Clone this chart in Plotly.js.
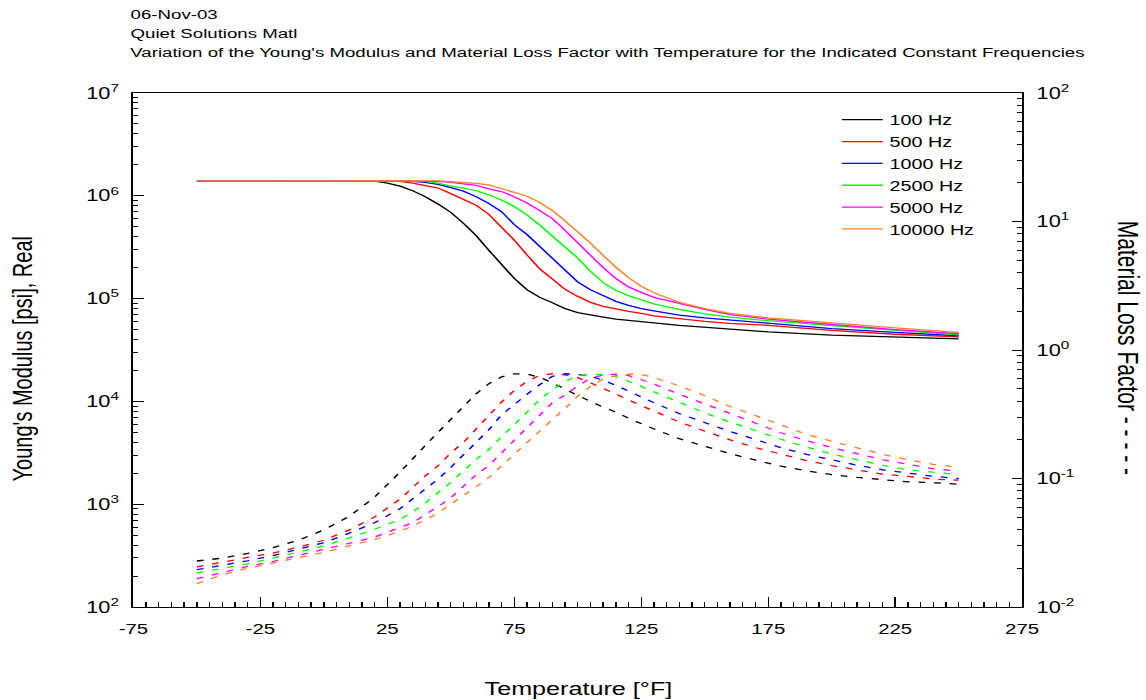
<!DOCTYPE html>
<html>
<head>
<meta charset="utf-8">
<script src="https://cdn.plot.ly/plotly-3.0.1.min.js"></script>
<style>
html,body{margin:0;padding:0;background:#fff;overflow:hidden;}
#wrap{width:1146px;height:700px;overflow:hidden;position:relative;}
#chart{width:842px;height:700px;transform:scaleX(1.361045);transform-origin:0 0;}
</style>
</head>
<body>
<div id="wrap"><div id="chart"></div></div>
<script>
// ---------------- data ----------------
const seriesNames = ['100 Hz', '500 Hz', '1000 Hz', '2500 Hz', '5000 Hz', '10000 Hz'];
const seriesColors = ['#000000', '#ff0000', '#0000ff', '#00ff00', '#ff00ff', '#ff7f27'];

// Young's modulus (psi), solid lines
const tempModulus = [-50, 15, 20, 25, 30, 35, 40, 45, 50, 55, 60, 65, 70, 75, 80, 85, 90, 95, 100, 105, 110, 115, 120, 125, 130, 140, 150, 160, 175, 200, 225, 250];
const modulus100 = [1.40e6, 1.40e6, 1.39e6, 1.33e6, 1.24e6, 1.12e6, 9.8e5, 8.3e5, 6.9e5, 5.4e5, 4.1e5, 2.95e5, 2.14e5, 1.57e5, 1.22e5, 1.03e5, 9.1e4, 8.0e4, 7.3e4, 6.9e4, 6.6e4, 6.3e4, 6.1e4, 5.9e4, 5.8e4, 5.5e4, 5.25e4, 5.05e4, 4.75e4, 4.42e4, 4.2e4, 4.05e4];
const modulus500 = [1.40e6, 1.40e6, 1.40e6, 1.40e6, 1.38e6, 1.33e6, 1.26e6, 1.19e6, 1.05e6, 9.2e5, 8.1e5, 6.6e5, 5.0e5, 3.7e5, 2.66e5, 1.95e5, 1.55e5, 1.23e5, 1.05e5, 9.2e4, 8.4e4, 7.9e4, 7.5e4, 7.2e4, 6.8e4, 6.4e4, 6.0e4, 5.75e4, 5.5e4, 4.9e4, 4.5e4, 4.25e4];
const modulus1000 = [1.40e6, 1.40e6, 1.40e6, 1.40e6, 1.40e6, 1.38e6, 1.35e6, 1.29e6, 1.20e6, 1.11e6, 9.8e5, 8.4e5, 7.0e5, 5.25e5, 4.2e5, 3.2e5, 2.48e5, 1.86e5, 1.45e5, 1.22e5, 1.07e5, 9.4e4, 8.6e4, 8.0e4, 7.6e4, 6.9e4, 6.5e4, 6.2e4, 5.75e4, 5.1e4, 4.7e4, 4.35e4];
const modulus2500 = [1.40e6, 1.40e6, 1.40e6, 1.40e6, 1.40e6, 1.40e6, 1.38e6, 1.33e6, 1.24e6, 1.19e6, 1.12e6, 1.02e6, 9.1e5, 7.85e5, 6.5e5, 5.2e5, 4.1e5, 3.16e5, 2.48e5, 1.84e5, 1.43e5, 1.20e5, 1.07e5, 9.7e4, 8.9e4, 7.85e4, 7.1e4, 6.6e4, 6.1e4, 5.45e4, 4.9e4, 4.45e4];
const modulus5000 = [1.40e6, 1.40e6, 1.40e6, 1.40e6, 1.40e6, 1.40e6, 1.40e6, 1.38e6, 1.35e6, 1.30e6, 1.26e6, 1.17e6, 1.10e6, 9.8e5, 8.5e5, 7.2e5, 6.0e5, 4.6e5, 3.47e5, 2.6e5, 2.0e5, 1.57e5, 1.30e5, 1.15e5, 1.03e5, 9.0e4, 7.85e4, 7.0e4, 6.3e4, 5.6e4, 5.0e4, 4.55e4];
const modulus10000 = [1.40e6, 1.40e6, 1.40e6, 1.40e6, 1.40e6, 1.40e6, 1.40e6, 1.40e6, 1.37e6, 1.35e6, 1.32e6, 1.28e6, 1.18e6, 1.08e6, 9.9e5, 8.6e5, 7.2e5, 5.7e5, 4.47e5, 3.47e5, 2.63e5, 2.02e5, 1.60e5, 1.32e5, 1.14e5, 9.2e4, 8.0e4, 7.2e4, 6.5e4, 5.8e4, 5.2e4, 4.7e4];

// Material loss factor, dashed lines
const tempLoss = [-50, -40, -30, -20, -10, 0, 10, 20, 30, 35, 40, 45, 50, 55, 60, 65, 70, 75, 80, 85, 90, 95, 100, 105, 110, 115, 120, 125, 130, 140, 150, 160, 170, 180, 190, 200, 210, 220, 230, 240, 250];
const loss100 = [0.0228, 0.0240, 0.0261, 0.0290, 0.0331, 0.0398, 0.0507, 0.0716, 0.112, 0.141, 0.181, 0.229, 0.288, 0.363, 0.457, 0.547, 0.619, 0.653, 0.649, 0.614, 0.556, 0.495, 0.442, 0.398, 0.359, 0.329, 0.294, 0.266, 0.243, 0.204, 0.178, 0.156, 0.139, 0.125, 0.115, 0.107, 0.102, 0.0977, 0.0942, 0.0927, 0.0902];
const loss500 = [0.0205, 0.0224, 0.0243, 0.0263, 0.0292, 0.0331, 0.0398, 0.0501, 0.0692, 0.0851, 0.105, 0.126, 0.158, 0.191, 0.243, 0.313, 0.394, 0.484, 0.569, 0.634, 0.653, 0.641, 0.610, 0.556, 0.501, 0.457, 0.406, 0.369, 0.335, 0.275, 0.234, 0.200, 0.174, 0.154, 0.138, 0.126, 0.116, 0.108, 0.104, 0.0989, 0.0970];
const loss1000 = [0.0195, 0.0211, 0.0229, 0.0251, 0.0282, 0.0316, 0.0376, 0.0452, 0.0582, 0.0692, 0.0832, 0.0989, 0.122, 0.153, 0.191, 0.240, 0.313, 0.380, 0.452, 0.537, 0.624, 0.653, 0.646, 0.624, 0.582, 0.531, 0.479, 0.429, 0.389, 0.320, 0.272, 0.232, 0.201, 0.174, 0.154, 0.139, 0.127, 0.117, 0.110, 0.104, 0.100];
const loss2500 = [0.0184, 0.0200, 0.0217, 0.0240, 0.0269, 0.0299, 0.0345, 0.0403, 0.0479, 0.0550, 0.0646, 0.0776, 0.0933, 0.115, 0.141, 0.168, 0.211, 0.263, 0.331, 0.412, 0.490, 0.569, 0.631, 0.649, 0.643, 0.617, 0.571, 0.519, 0.468, 0.389, 0.324, 0.275, 0.236, 0.202, 0.176, 0.155, 0.140, 0.127, 0.117, 0.112, 0.107];
const loss5000 = [0.0166, 0.0186, 0.0207, 0.0226, 0.0251, 0.0279, 0.0313, 0.0351, 0.0412, 0.0452, 0.0525, 0.0603, 0.0708, 0.0871, 0.107, 0.126, 0.158, 0.200, 0.251, 0.309, 0.389, 0.447, 0.525, 0.603, 0.638, 0.649, 0.631, 0.589, 0.543, 0.452, 0.380, 0.324, 0.269, 0.227, 0.197, 0.174, 0.156, 0.140, 0.129, 0.119, 0.114];
const loss10000 = [0.0152, 0.0178, 0.0200, 0.0219, 0.0243, 0.0266, 0.0299, 0.0335, 0.0389, 0.0427, 0.0479, 0.0537, 0.0631, 0.0733, 0.0861, 0.102, 0.126, 0.155, 0.193, 0.234, 0.288, 0.351, 0.437, 0.519, 0.596, 0.631, 0.649, 0.646, 0.610, 0.525, 0.442, 0.363, 0.309, 0.260, 0.221, 0.195, 0.173, 0.154, 0.140, 0.129, 0.122];

// tick labels
const xTickVals = [-75, -25, 25, 75, 125, 175, 225, 275];
const xTickText = ['-75', '-25', '25', '75', '125', '175', '225', '275'];
const yTickVals = [1e2, 1e3, 1e4, 1e5, 1e6, 1e7];
const yTickText = ['10<sup>2</sup>', '10<sup>3</sup>', '10<sup>4</sup>', '10<sup>5</sup>', '10<sup>6</sup>', '10<sup>7</sup>'];
const y2TickVals = [1e-2, 1e-1, 1, 10, 100];
const y2TickText = ['10<sup>-2</sup>', '10<sup>-1</sup>', '10<sup>0</sup>', '10<sup>1</sup>', '10<sup>2</sup>'];

const headerLines = ['06-Nov-03', 'Quiet Solutions Matl', "Variation of the Young's Modulus and Material Loss Factor with Temperature for the Indicated Constant Frequencies"];

// ---------------- build ----------------
function logMinor(lo, hi) {
  const v = [];
  for (let e = lo; e < hi; e++) for (let m = 2; m <= 9; m++) v.push(m * Math.pow(10, e));
  return v;
}

const modulusSets = [modulus100, modulus500, modulus1000, modulus2500, modulus5000, modulus10000];
const lossSets = [loss100, loss500, loss1000, loss2500, loss5000, loss10000];

const traces = [];
modulusSets.forEach((ys, i) => {
  traces.push({
    type: 'scatter', mode: 'lines', x: tempModulus, y: ys, name: seriesNames[i],
    line: {color: seriesColors[i], width: 1.3}, xaxis: 'x', yaxis: 'y', hoverinfo: 'skip'
  });
});
lossSets.forEach((ys, i) => {
  traces.push({
    type: 'scatter', mode: 'lines', x: tempLoss, y: ys, name: seriesNames[i] + ' loss',
    line: {color: seriesColors[i], width: 1.3, dash: '5px,6.5px'}, xaxis: 'x', yaxis: 'y2',
    showlegend: false, hoverinfo: 'skip'
  });
});

const FONT = 'Liberation Sans, Arial, Helvetica, sans-serif';
const axisCommon = {
  showline: true, linecolor: '#000', linewidth: 1.4, showgrid: false, zeroline: false,
  ticks: 'inside', tickcolor: '#000', tickwidth: 1, tickfont: {family: FONT, size: 15, color: '#000'},
  fixedrange: true
};

const annotations = [
  {text: headerLines[0], x: -0.0057, y: 1.1526, xref: 'paper', yref: 'paper', xanchor: 'left', yanchor: 'middle', showarrow: false, font: {family: FONT, size: 13.7, color: '#000'}},
  {text: headerLines[1], x: -0.0057, y: 1.1155, xref: 'paper', yref: 'paper', xanchor: 'left', yanchor: 'middle', showarrow: false, font: {family: FONT, size: 13.7, color: '#000'}},
  {text: headerLines[2], x: -0.0057, y: 1.0785, xref: 'paper', yref: 'paper', xanchor: 'left', yanchor: 'middle', showarrow: false, font: {family: FONT, size: 13.7, color: '#000'}},
  {text: 'Temperature [°F]', x: 0.5, y: -0.158, xref: 'paper', yref: 'paper', xanchor: 'center', yanchor: 'middle', showarrow: false, font: {family: FONT, size: 18.5, color: '#000'}},
  {text: "Young's Modulus [psi], Real", x: -0.1249, y: 0.4825, xref: 'paper', yref: 'paper', xanchor: 'center', yanchor: 'middle', textangle: -90, showarrow: false, font: {family: FONT, size: 20, color: '#000'}},
  {text: 'Material Loss Factor - - - - -', x: 1.119, y: 0.505, xref: 'paper', yref: 'paper', xanchor: 'center', yanchor: 'middle', textangle: 90, showarrow: false, font: {family: FONT, size: 21, color: '#000'}}
];

const layout = {
  width: 842, height: 700,
  margin: {l: 97.72, r: 91.11, t: 93.3, b: 93.3, pad: 0, autoexpand: false},
  paper_bgcolor: '#ffffff', plot_bgcolor: '#ffffff',
  font: {family: FONT, size: 15, color: '#000'},
  showlegend: true,
  legend: {x: 0.7896, y: 0.979, xanchor: 'left', yanchor: 'top', bgcolor: 'rgba(0,0,0,0)', borderwidth: 0,
           font: {family: FONT, size: 14.5, color: '#000'}, tracegroupgap: 0},
  xaxis: Object.assign({}, axisCommon, {
    type: 'linear', range: [-75, 275], tickmode: 'array', tickvals: xTickVals, ticktext: xTickText,
    ticklen: 10, mirror: true, ticklabelstandoff: 8,
    minor: {tickmode: 'linear', tick0: -75, dtick: 5, ticks: 'inside', ticklen: 5, tickwidth: 1, tickcolor: '#000', showgrid: false}
  }),
  yaxis: Object.assign({}, axisCommon, {
    type: 'log', range: [2, 7], tickmode: 'array', tickvals: yTickVals, ticktext: yTickText,
    ticklen: 7.5, ticklabelstandoff: 6, tickfont: {family: FONT, size: 16, color: '#000'},
    minor: {tickmode: 'array', tickvals: logMinor(2, 7), ticks: 'inside', ticklen: 3.5, tickwidth: 1, tickcolor: '#000', showgrid: false}
  }),
  yaxis2: Object.assign({}, axisCommon, {
    type: 'log', range: [-2, 2], overlaying: 'y', side: 'right', anchor: 'x', tickmode: 'array', tickvals: y2TickVals, ticktext: y2TickText,
    ticklen: 7.5, ticklabelstandoff: 6, tickfont: {family: FONT, size: 16, color: '#000'},
    minor: {tickmode: 'array', tickvals: logMinor(-2, 2), ticks: 'inside', ticklen: 3.5, tickwidth: 1, tickcolor: '#000', showgrid: false}
  }),
  annotations: annotations
};

Plotly.newPlot('chart', traces, layout, {staticPlot: true, displayModeBar: false, responsive: false});
</script>
</body>
</html>
